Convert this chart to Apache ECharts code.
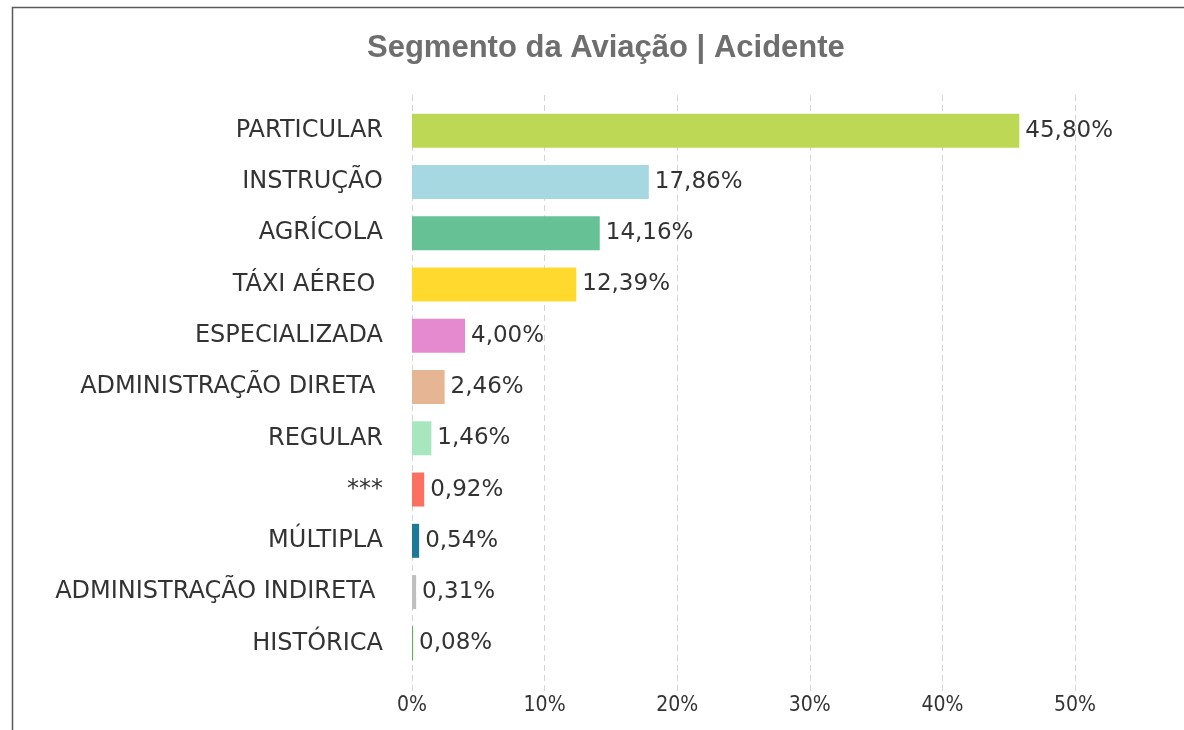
<!DOCTYPE html>
<html>
<head>
<meta charset="utf-8">
<script src="https://cdn.jsdelivr.net/npm/echarts@6/dist/echarts.min.js"></script>
<style>
  html, body { margin: 0; padding: 0; background: #fff; }
  #main { width: 1184px; height: 730px; }
</style>
</head>
<body>
<div id="main"></div>
<script>
// segmentos (de cima para baixo)
var segmentos = ['PARTICULAR', 'INSTRUÇÃO', 'AGRÍCOLA', 'TÁXI AÉREO ', 'ESPECIALIZADA',
  'ADMINISTRAÇÃO DIRETA ', 'REGULAR', '***', 'MÚLTIPLA', 'ADMINISTRAÇÃO INDIRETA ', 'HISTÓRICA'];
// percentual de acidentes
var percentuais = [45.80, 17.86, 14.16, 12.39, 4.00, 2.46, 1.46, 0.92, 0.54, 0.31, 0.08];
var cores = ['#bdd855', '#a6d8e2', '#66c294', '#ffd92e', '#e58acf', '#e6b594',
  '#a8e6bf', '#fb7060', '#1c7a96', '#bfbfbf', '#56b04f'];
var ticksX = [0, 10, 20, 30, 40, 50];

var fonte = "'DejaVu Sans', sans-serif";
var chart = echarts.init(document.getElementById('main'));

var dados = percentuais.map(function (v, i) {
  return { value: v, itemStyle: { color: cores[i] } };
});

var option = {
  backgroundColor: '#fff',
  animation: false,
  title: {
    text: 'Segmento da Aviação | Acidente',
    left: 362,
    top: 28,
    textStyle: { fontFamily: "'Liberation Sans', Arial, sans-serif", fontWeight: 'bold', fontSize: 31, color: '#6e6e6e' }
  },
  graphic: [{
    type: 'rect',
    shape: { x: 12.5, y: 7.5, width: 1400, height: 900 },
    style: { fill: 'none', stroke: '#5a5a5a', lineWidth: 1.5 },
    silent: true
  }],
  grid: [
    { left: 412, right: 109, top: 105, bottom: 61 },
    { left: 412, right: 109, top: 95, bottom: 38 }
  ],
  xAxis: [
    { gridIndex: 0, type: 'value', min: 0, max: 50, interval: 10, show: false },
    {
      gridIndex: 1, type: 'value', min: ticksX[0], max: ticksX[ticksX.length - 1], interval: 10,
      axisLine: { show: false },
      axisTick: { show: false },
      axisLabel: {
        margin: 3,
        formatter: '{value}%',
        fontFamily: "'DejaVu Sans Condensed', 'DejaVu Sans', sans-serif",
        fontSize: 21,
        color: '#333'
      },
      splitLine: { show: true, lineStyle: { color: '#d6d6d6', width: 1, type: [6, 4] } }
    }
  ],
  yAxis: [
    {
      gridIndex: 0, type: 'category', data: segmentos, inverse: true,
      axisLine: { show: false },
      axisTick: { show: false },
      axisLabel: { margin: 29, fontFamily: fonte, fontSize: 24, color: '#333' }
    },
    { gridIndex: 1, type: 'value', min: 0, max: 1, show: false }
  ],
  series: [{
    type: 'bar',
    xAxisIndex: 0,
    yAxisIndex: 0,
    data: dados,
    barWidth: 34,
    label: {
      show: true,
      position: 'right',
      distance: 6,
      fontFamily: fonte,
      fontSize: 23,
      color: '#333',
      formatter: function (p) {
        return p.value.toFixed(2).replace('.', ',') + '%';
      }
    }
  }]
};
chart.setOption(option);
</script>
</body>
</html>
